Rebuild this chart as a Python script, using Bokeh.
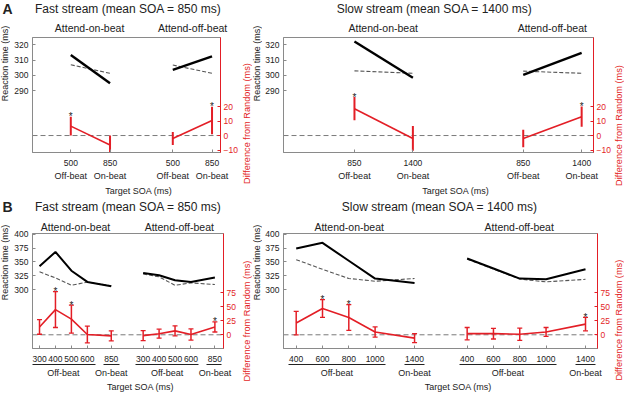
import math
from bokeh.plotting import figure
from bokeh.models import Range1d, LinearAxis, FixedTicker, Span
from bokeh.layouts import column, row
from bokeh.embed import file_html
from bokeh.resources import INLINE
from bokeh.core.properties import value

# ---------------- data ----------------
fast_soa = [300, 400, 500, 600, 850]
slow_soa = [400, 600, 800, 1000, 1400]
A_fast_soa = [500, 850]
A_slow_soa = [850, 1400]

# Panel A - fast stream (attend-on-beat / attend-off-beat)
A_fast_on_attend = [313.3, 294.7]
A_fast_on_random = [306.9, 301.3]
A_fast_on_diff = [6.5, -6.5]
A_fast_on_err = [6.5, 6.5]
A_fast_on_sig = [True, False]
A_fast_off_attend = [303.5, 312.4]
A_fast_off_random = [306.7, 301.3]
A_fast_off_diff = [-2.0, 10.3]
A_fast_off_err = [4.5, 9.5]
A_fast_off_sig = [False, True]

# Panel A - slow stream
A_slow_on_attend = [322.2, 298.4]
A_slow_on_random = [302.9, 301.3]
A_slow_on_diff = [18.5, -2.0]
A_slow_on_err = [8.0, 8.5]
A_slow_on_sig = [True, False]
A_slow_off_attend = [300.2, 314.7]
A_slow_off_random = [302.7, 301.3]
A_slow_off_diff = [-2.0, 13.0]
A_slow_off_err = [6.0, 7.0]
A_slow_off_sig = [False, True]

# Panel B - fast stream
B_fast_on_attend = [342.0, 368.0, 334.0, 313.8, 305.8]
B_fast_on_random = [332.0, 321.0, 307.6, 313.5, 306.8]
B_fast_on_diff = [14.0, 45.0, 28.0, 0.5, -2.0]
B_fast_on_err = [13.0, 32.0, 25.0, 15.0, 9.0]
B_fast_on_sig = [False, True, True, False, False]
B_fast_off_attend = [330.0, 325.7, 316.7, 313.8, 321.6]
B_fast_off_random = [328.0, 323.0, 307.6, 312.0, 309.0]
B_fast_off_diff = [-1.5, 2.0, 7.0, 0.5, 14.0]
B_fast_off_err = [9.0, 8.0, 9.0, 10.0, 9.0]
B_fast_off_sig = [False, False, False, False, True]

# Panel B - slow stream
B_slow_on_attend = [374.0, 384.4, 352.0, 319.8, 312.0]
B_slow_on_random = [354.0, 336.6, 320.0, 315.0, 320.0]
B_slow_on_diff = [21.0, 47.0, 31.0, 5.0, -6.0]
B_slow_on_err = [21.0, 16.0, 23.0, 9.0, 8.0]
B_slow_on_sig = [False, True, True, False, False]
B_slow_off_attend = [356.0, 338.0, 319.8, 318.5, 336.6]
B_slow_off_random = [355.0, 337.0, 319.0, 313.8, 318.5]
B_slow_off_diff = [2.0, 2.0, 1.0, 5.0, 19.0]
B_slow_off_err = [11.0, 9.5, 11.0, 8.0, 12.0]
B_slow_off_sig = [False, False, False, False, True]

A_rt_ticks = [290, 300, 310, 320]
A_diff_ticks = [-10, 0, 10, 20]
B_rt_ticks = [300, 325, 350, 375, 400]
B_diff_ticks = [-25, 0, 25, 50, 75]

group_names = ["Attend-on-beat", "Attend-off-beat"]
stream_titles = ["Fast stream (mean SOA = 850 ms)", "Slow stream (mean SOA = 1400 ms)"]
rt_label = "Reaction time (ms)"
diff_label = "Difference from Random (ms)"
x_label = "Target SOA (ms)"

# ---------------- layout / style ----------------
# horizontal pieces (px): [strip, panel, strip] per column; right column shifted 16px left
XB = [0, 10, 240, 252, 262, 613, 624]
COL_SHIFT = [0, 16]
ROWS = {"hA": (0, 16), "A": (16, 199), "hB": (199, 214), "B": (214, 395)}
ROW_SHIFT = {"hA": 0, "A": 0, "hB": 17, "B": 17}
PANEL_X = [(XB[1], XB[2]), (XB[4], XB[5])]
BL = [22, 21]
BR = [17, 16]
BT = {"A": 21, "B": 19}
BB = {"A": 47, "B": 47}

X_FAST = (-0.44, 11.54)
X_SLOW = (-0.483, 11.456)
Y_A = (249.3, 324.8)
Y2_A = (-11.7, 67.6)
Y_B = (193.4, 401.3)
Y2_B = (-24.5, 181.0)

GROUP_OFFSET = [0.0, 6.5]
RED = "#e31e26"
GRAY = "#8a8a8a"
TXT = "#222222"
FONT = "Liberation Sans"


def soa_pos(s, first, step, onbeat):
    return 4.5 if s == onbeat else (s - first) / step


def text_fig(x0, x1, rowkey, xshift):
    """A figure whose frame is the whole canvas, in reference-pixel units."""
    y0, y1 = ROWS[rowkey]
    ys = ROW_SHIFT[rowkey]
    p = figure(width=x1 - x0, height=y1 - y0, x_range=Range1d(x0 + xshift, x1 + xshift),
               y_range=Range1d(y1 + ys, y0 + ys), output_backend="svg",
               toolbar_location=None, tools="", x_axis_location=None,
               y_axis_location=None, min_border=0, min_border_left=0,
               min_border_right=0, min_border_top=0, min_border_bottom=0,
               title_location=None, frame_align=False)
    p.xgrid.visible = False
    p.ygrid.visible = False
    p.outline_line_color = None
    return p


def put_text(p, X, Y, text, size, color=TXT, bold=False, angle=0.0, align="center"):
    p.text(x=[X], y=[Y], text=[text], angle=angle, text_align=align,
           text_baseline="middle", text_font=value(FONT), text_font_size=value(size),
           text_color=color, text_font_style="bold" if bold else "normal")


class Panel:
    def __init__(self, col, rowkey, xr, yr, yr2):
        self.col, self.rowkey, self.xr, self.yr = col, rowkey, xr, yr
        self.fx0, fx1 = PANEL_X[col]
        fy0, fy1 = ROWS[rowkey]
        self.w, self.h = fx1 - self.fx0, fy1 - fy0
        self.bl = BL[col]
        self.fw = self.w - BL[col] - BR[col]
        p = figure(width=self.w, height=self.h, x_range=Range1d(*xr),
                   y_range=Range1d(*yr), output_backend="svg", toolbar_location=None,
                   tools="", min_border_left=BL[col], min_border_right=BR[col],
                   min_border_top=BT[rowkey], min_border_bottom=BB[rowkey],
                   title_location=None, frame_align=False)
        p.extra_y_ranges = {"diff": Range1d(*yr2)}
        p.xgrid.visible = False
        p.ygrid.visible = False
        p.outline_line_color = GRAY
        p.outline_line_width = 1
        self.p = p

    def data_x(self, X):
        lx = X - COL_SHIFT[self.col] - self.fx0
        return self.xr[0] + (lx - self.bl) / self.fw * (self.xr[1] - self.xr[0])

    def px_per_unit(self):
        return self.fw / (self.xr[1] - self.xr[0])

    def text_axis(self, side, ticks, labels, standoff, size, color=TXT):
        ax = LinearAxis(ticker=FixedTicker(ticks=ticks),
                        major_label_overrides=dict(zip(ticks, labels)),
                        axis_line_color=None, major_tick_line_color=None,
                        minor_tick_line_color=None, major_tick_in=0, major_tick_out=0,
                        major_label_standoff=standoff, major_label_text_font=FONT,
                        major_label_text_font_size=size, major_label_text_color=color)
        self.p.add_layout(ax, side)

    def underline_axis(self, segs):
        ppu = self.px_per_unit()
        dash = []
        for i, (a, b) in enumerate(segs):
            dash.append(max(1, round((b - a) * ppu)))
            if i + 1 < len(segs):
                dash.append(max(1, round((segs[i + 1][0] - b) * ppu)))
        dash.append(600)
        ax = LinearAxis(ticker=FixedTicker(ticks=[]), bounds=(segs[0][0], segs[-1][1]),
                        axis_line_color=TXT, axis_line_width=1,
                        axis_line_dash=" ".join(str(d) for d in dash),
                        major_tick_line_color=None, minor_tick_line_color=None,
                        major_tick_in=0, major_tick_out=0, major_label_standoff=0)
        self.p.add_layout(ax, "below")


def build(panel, soas, first, step, onbeat, groups, rt_ticks, diff_ticks,
          lw_attend, err_lw, caps, num_standoff):
    p = panel.p
    ticks, overrides = [], {}
    for g, grp in zip(GROUP_OFFSET, groups):
        xs = [soa_pos(s, first, step, onbeat) + g for s in soas]
        for x, s in zip(xs, soas):
            ticks.append(x)
            overrides[x] = str(s)
        p.line(xs, grp["random"], line_color="#555555", line_dash="4 2", line_width=1.1)
        p.line(xs, grp["attend"], line_color="black", line_width=lw_attend)
        lo = [m - e for m, e in zip(grp["diff"], grp["err"])]
        hi = [m + e for m, e in zip(grp["diff"], grp["err"])]
        p.segment(x0=xs, y0=lo, x1=xs, y1=hi, line_color=RED, line_width=err_lw,
                  y_range_name="diff")
        if caps:
            for ys in (lo, hi):
                p.scatter(xs, ys, marker="dash", size=5, line_color=RED, line_width=1.3,
                          y_range_name="diff")
        p.line(xs, grp["diff"], line_color=RED, line_width=1.6, y_range_name="diff")
        sx = [x for x, s in zip(xs, grp["sig"]) if s]
        sy = [h for h, s in zip(hi, grp["sig"]) if s]
        if sx:
            p.text(x=sx, y=sy, text=["*"] * len(sx), y_range_name="diff",
                   text_font=value(FONT), text_font_size=value("10px"),
                   text_align="center", text_baseline="alphabetic",
                   text_color=TXT, y_offset=0)
    p.add_layout(Span(location=0, dimension="width", y_range_name="diff",
                      line_color="#7a7a7a", line_dash="5 3", line_width=1,
                      level="underlay"))

    xa = p.xaxis[0]
    xa.ticker = FixedTicker(ticks=ticks)
    xa.major_label_overrides = overrides
    xa.major_tick_in = 3
    xa.major_tick_out = 0
    xa.major_tick_line_color = GRAY
    xa.axis_line_color = GRAY
    xa.major_label_standoff = num_standoff
    xa.major_label_text_font = FONT
    xa.major_label_text_font_size = "8.5px"
    xa.major_label_text_color = TXT

    ya = p.yaxis[0]
    ya.ticker = FixedTicker(ticks=rt_ticks)
    ya.major_tick_in = 3
    ya.major_tick_out = 0
    ya.major_tick_line_color = GRAY
    ya.axis_line_color = GRAY
    ya.major_label_standoff = 4
    ya.major_label_text_font = FONT
    ya.major_label_text_font_size = "8.5px"
    ya.major_label_text_color = TXT

    ra = LinearAxis(y_range_name="diff", ticker=FixedTicker(ticks=diff_ticks),
                    axis_line_color=RED, major_tick_line_color=RED,
                    major_tick_in=3, major_tick_out=0, major_label_standoff=3,
                    major_label_text_color=RED, major_label_text_font=FONT,
                    major_label_text_font_size="8.5px", minor_tick_line_color=None)
    p.add_layout(ra, "right")


def grp(attend, random, diff, err, sig):
    return dict(attend=attend, random=random, diff=diff, err=err, sig=sig)


def label_ext(panel, s):
    return (2.45 * len(str(s)) + 0.4) / panel.px_per_unit()


# ---------------- Panel A ----------------
pa1 = Panel(0, "A", X_FAST, Y_A, Y2_A)
build(pa1, A_fast_soa, 300, 100, 850,
      [grp(A_fast_on_attend, A_fast_on_random, A_fast_on_diff, A_fast_on_err, A_fast_on_sig),
       grp(A_fast_off_attend, A_fast_off_random, A_fast_off_diff, A_fast_off_err, A_fast_off_sig)],
      A_rt_ticks, A_diff_ticks, 2.4, 2.0, False, 7)
pa1.text_axis("above", [pa1.data_x(90), pa1.data_x(194.7)], group_names, 4, "10.5px")

pa2 = Panel(1, "A", X_SLOW, Y_A, Y2_A)
build(pa2, A_slow_soa, 400, 200, 1400,
      [grp(A_slow_on_attend, A_slow_on_random, A_slow_on_diff, A_slow_on_err, A_slow_on_sig),
       grp(A_slow_off_attend, A_slow_off_random, A_slow_off_diff, A_slow_off_err, A_slow_off_sig)],
      A_rt_ticks, A_diff_ticks, 2.4, 2.0, False, 7)
pa2.text_axis("above", [pa2.data_x(400), pa2.data_x(571.3)], group_names, 4, "10.5px")

for panel, soas, first, step, onbeat, xl in [(pa1, A_fast_soa, 300, 100, 850, 140),
                                             (pa2, A_slow_soa, 400, 200, 1400, 473.5)]:
    t, l = [], []
    for g in GROUP_OFFSET:
        for s in soas:
            t.append(soa_pos(s, first, step, onbeat) + g)
            l.append("On-beat" if s == onbeat else "Off-beat")
    panel.text_axis("below", t, l, 2, "9px")
    panel.text_axis("below", [panel.data_x(xl)], [x_label], 2, "9px")

# ---------------- Panel B ----------------
pb1 = Panel(0, "B", X_FAST, Y_B, Y2_B)
build(pb1, fast_soa, 300, 100, 850,
      [grp(B_fast_on_attend, B_fast_on_random, B_fast_on_diff, B_fast_on_err, B_fast_on_sig),
       grp(B_fast_off_attend, B_fast_off_random, B_fast_off_diff, B_fast_off_err, B_fast_off_sig)],
      B_rt_ticks, B_diff_ticks, 2.0, 1.5, True, 7)
pb1.text_axis("above", [pb1.data_x(75), pb1.data_x(178.8)], group_names, 1, "10.5px")

pb2 = Panel(1, "B", X_SLOW, Y_B, Y2_B)
build(pb2, slow_soa, 400, 200, 1400,
      [grp(B_slow_on_attend, B_slow_on_random, B_slow_on_diff, B_slow_on_err, B_slow_on_sig),
       grp(B_slow_off_attend, B_slow_off_random, B_slow_off_diff, B_slow_off_err, B_slow_off_sig)],
      B_rt_ticks, B_diff_ticks, 2.0, 1.5, True, 7)
pb2.text_axis("above", [pb2.data_x(364.7), pb2.data_x(534.7)], group_names, 1, "10.5px")

for panel, soas, first, step, onbeat, xl in [(pb1, fast_soa, 300, 100, 850, 140),
                                             (pb2, slow_soa, 400, 200, 1400, 473.7)]:
    segs, t, l = [], [], []
    off = [s for s in soas if s != onbeat]
    for g in GROUP_OFFSET:
        x0 = soa_pos(off[0], first, step, onbeat) + g - label_ext(panel, off[0])
        x1 = soa_pos(off[-1], first, step, onbeat) + g + label_ext(panel, off[-1])
        xo = soa_pos(onbeat, first, step, onbeat) + g
        e = label_ext(panel, onbeat)
        segs += [(x0, x1), (xo - e, xo + e)]
        t += [(x0 + x1) / 2, xo]
        l += ["Off-beat", "On-beat"]
    panel.underline_axis(segs)
    panel.text_axis("below", t, l, 3, "9px")
    panel.text_axis("below", [panel.data_x(xl)], [x_label], 1, "9px")

# ---------------- header strips and vertical label strips ----------------
hAL = text_fig(0, XB[3], "hA", COL_SHIFT[0])
put_text(hAL, 2, 8.6, "A", "14px", bold=True, align="left")
put_text(hAL, 127.7, 8, stream_titles[0], "12px")
hAR = text_fig(XB[3], XB[6], "hA", COL_SHIFT[1])
put_text(hAR, 450, 8, stream_titles[1], "12px")

hBL = text_fig(0, XB[3], "hB", COL_SHIFT[0])
put_text(hBL, 2, 223.4, "B", "14px", bold=True, align="left")
put_text(hBL, 127.7, 223.2, stream_titles[0], "12px")
hBR = text_fig(XB[3], XB[6], "hB", COL_SHIFT[1])
put_text(hBR, 455.2, 223.2, stream_titles[1], "12px")


def strips(rowkey, y_rt, y_diff_l, y_diff_r):
    sL1 = text_fig(XB[0], XB[1], rowkey, COL_SHIFT[0])
    put_text(sL1, 4.8, y_rt, rt_label, "9px", angle=math.pi / 2)
    sR1 = text_fig(XB[2], XB[3], rowkey, COL_SHIFT[0])
    put_text(sR1, 246.7, y_diff_l, diff_label, "9.2px", color=RED, angle=math.pi / 2)
    sL2 = text_fig(XB[3], XB[4], rowkey, COL_SHIFT[1])
    put_text(sL2, 272.5, y_rt, rt_label, "9px", angle=math.pi / 2)
    sR2 = text_fig(XB[5], XB[6], rowkey, COL_SHIFT[1])
    put_text(sR2, 634.2, y_diff_r, diff_label, "9.2px", color=RED, angle=math.pi / 2)
    return sL1, sR1, sL2, sR2


a1, a2, a3, a4 = strips("A", 63, 123, 125)
b1, b2, b3, b4 = strips("B", 279, 337.5, 336.7)

layout = column(row(hAL, hAR), row(a1, pa1.p, a2, a3, pa2.p, a4),
                row(hBL, hBR), row(b1, pb1.p, b2, b3, pb2.p, b4))
open("out.html", "w").write(file_html(layout, INLINE))
